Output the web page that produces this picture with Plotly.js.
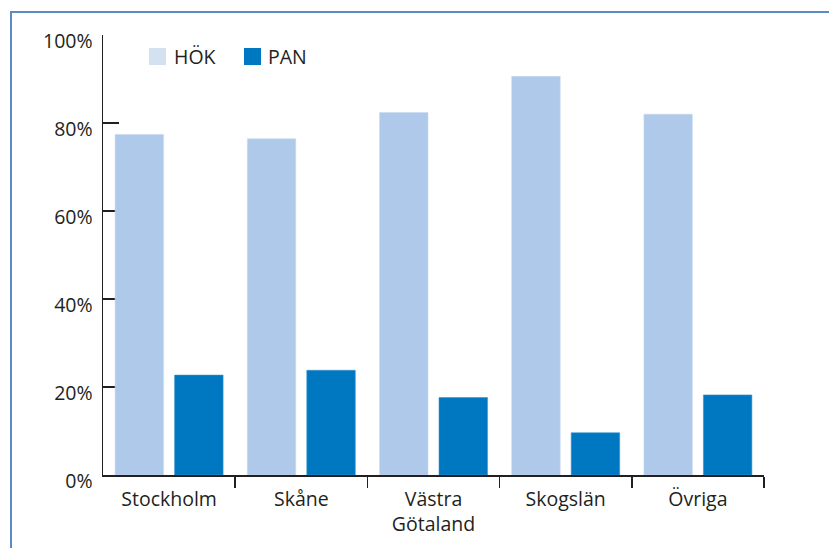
<!DOCTYPE html>
<html>
<head>
<meta charset="utf-8">
<script src="https://cdn.plot.ly/plotly-3.0.1.min.js"></script>
<style>
  html, body { margin: 0; padding: 0; background: #ffffff; }
  #chart { width: 829px; height: 548px; }
</style>
</head>
<body>
<div id="chart"></div>
<script>
// Data
const categories = ["Stockholm", "Skåne", "Västra<br>Götaland", "Skogslän", "Övriga"];
const hokValues = [77.4, 76.4, 82.4, 90.6, 82.0];
const panValues = [22.7, 23.8, 17.6, 9.6, 18.2];
const seriesNames = ["HÖK", "PAN"];
const yTickVals = [0, 20, 40, 60, 80, 100];
const yTickText = ["0%", "20%", "40%", "60%", "80%", "100%"];

const xPos = categories.map((c, i) => i);
const boundaries = categories.map((c, i) => i + 0.5);

const textColor = "#231f20";
const hokColor = "#aec9e9";
const panColor = "#0077c1";
const fontFamily = "'Open Sans', 'Noto Sans', sans-serif";
const fontSize = 19.5;

const traces = [
  {
    type: "bar", name: seriesNames[0], x: xPos, y: hokValues,
    marker: { color: hokColor, line: { color: "#c9daf0", width: 0.6 } },
    showlegend: false, hoverinfo: "skip"
  },
  {
    type: "bar", name: seriesNames[1], x: xPos, y: panValues,
    marker: { color: panColor, line: { color: "#3b93cf", width: 0.6 } },
    showlegend: false, hoverinfo: "skip"
  }
];

const layout = {
  width: 829, height: 548,
  margin: { l: 103, r: 65, t: 35, b: 73 },
  paper_bgcolor: "#ffffff", plot_bgcolor: "#ffffff",
  font: { family: fontFamily, size: fontSize, color: textColor },
  barmode: "group",
  bargap: 0.1,
  bargroupgap: 0.185,
  showlegend: false,
  xaxis: {
    type: "linear",
    range: [-0.5, 4.5],
    tickmode: "array", tickvals: xPos, ticktext: categories,
    ticks: "", showgrid: false, zeroline: false,
    showline: true, linecolor: textColor, linewidth: 1.5,
    ticklabelstandoff: 6,
    tickfont: { family: fontFamily, size: fontSize, color: textColor },
    minor: { tickmode: "array", tickvals: boundaries, ticks: "outside", ticklen: 11, tickwidth: 1.5, tickcolor: textColor, showgrid: false },
    fixedrange: true
  },
  yaxis: {
    range: [0, 100],
    tickmode: "array", tickvals: yTickVals, ticktext: yTickText,
    ticks: "inside", ticklen: 16, tickwidth: 1.5, tickcolor: textColor,
    showgrid: false, zeroline: false,
    showline: true, linecolor: textColor, linewidth: 1.5,
    layer: "below traces",
    ticklabelstandoff: 5,
    ticklabelshift: 6,
    tickfont: { family: fontFamily, size: fontSize, color: textColor },
    fixedrange: true
  },
  shapes: [
    // outer frame (left and top edges)
    { type: "path", xref: "paper", yref: "paper",
      path: "M -0.1392 -0.3 L -0.1392 1.0523 L 1.2 1.0523",
      line: { color: "#5b8ac7", width: 2 } },
    // legend swatches
    { type: "rect", xref: "paper", yref: "paper", x0: 0.0696, x1: 0.0953, y0: 0.9318, y1: 0.9705,
      fillcolor: "#d3e1f1", line: { width: 0 } },
    { type: "rect", xref: "paper", yref: "paper", x0: 0.2133, x1: 0.2390, y0: 0.9318, y1: 0.9705,
      fillcolor: panColor, line: { width: 0 } }
  ],
  annotations: [
    { xref: "paper", yref: "paper", x: 0.1044, y: 0.951, xanchor: "left", yanchor: "middle",
      text: seriesNames[0], showarrow: false, font: { family: fontFamily, size: fontSize, color: textColor } },
    { xref: "paper", yref: "paper", x: 0.2466, y: 0.951, xanchor: "left", yanchor: "middle",
      text: seriesNames[1], showarrow: false, font: { family: fontFamily, size: fontSize, color: textColor } }
  ]
};

Plotly.newPlot("chart", traces, layout, { staticPlot: true, displayModeBar: false });
</script>
</body>
</html>
